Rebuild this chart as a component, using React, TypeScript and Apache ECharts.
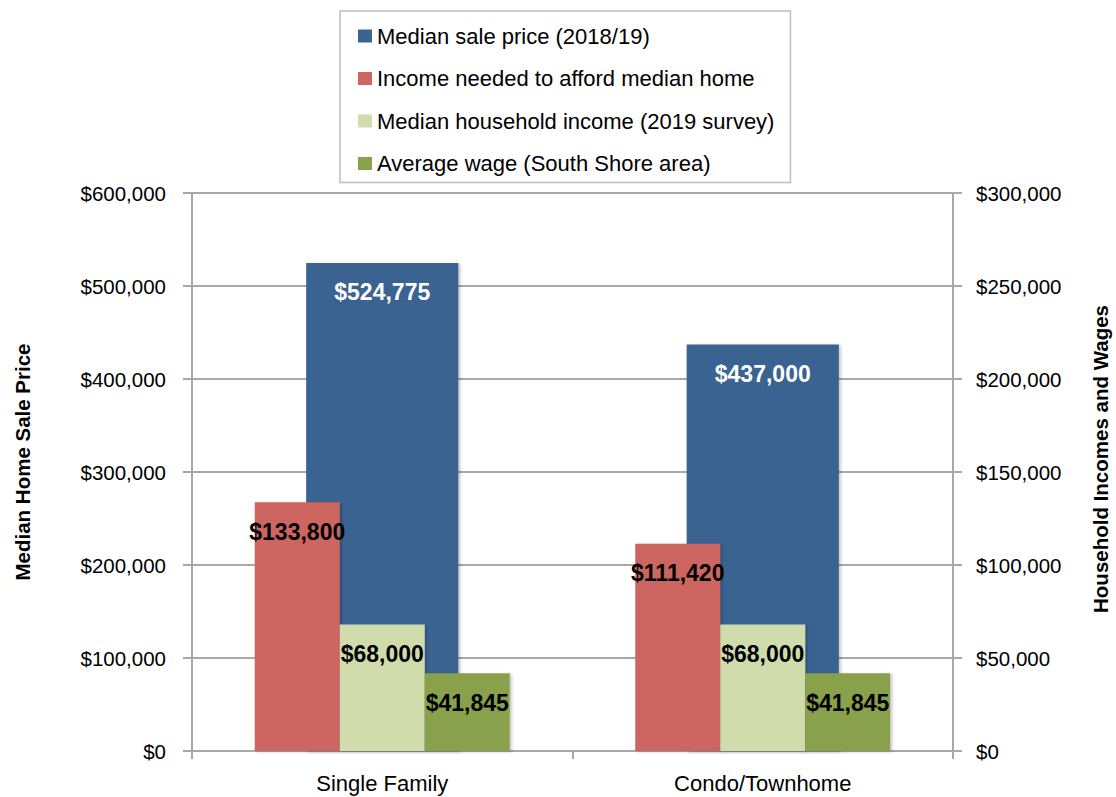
import React, { useEffect, useRef } from 'react';
import * as echarts from 'echarts';

const categories = ['Single Family', 'Condo/Townhome'];
const seriesNames = [
  'Median sale price (2018/19)',
  'Income needed to afford median home',
  'Median household income (2019 survey)',
  'Average wage (South Shore area)',
];
const medianSalePrice = [524775, 437000];
const incomeNeeded = [133800, 111420];
const medianHouseholdIncome = [68000, 68000];
const averageWage = [41845, 41845];
const leftAxisTitle = 'Median Home Sale Price';
const rightAxisTitle = 'Household Incomes and Wages';
const leftAxisMax = 600000;
const leftAxisInterval = 100000;
const rightAxisMax = 300000;
const rightAxisInterval = 50000;

const colors = ['#3B6491', '#CD6660', '#D0DCAB', '#8AA14B'];
const FONT = "'Liberation Sans Narrow', 'Arial Narrow', 'Liberation Sans', Arial, sans-serif";
const GRAY = '#a8a8a8';

const money = (v: number) => '$' + Math.round(v).toLocaleString('en-US');

export default function App() {
  const ref = useRef<HTMLDivElement>(null);
  useEffect(() => {
    document.body.style.margin = '0';
    if (!ref.current) return;
    const chart = echarts.init(ref.current, null, { renderer: 'svg' });
    const barLabel = (color: string) => ({
      show: true,
      position: 'insideTop',
      distance: 18,
      color,
      fontFamily: FONT,
      fontWeight: 'bold',
      fontSize: 23,
      formatter: (p: any) => money(p.value),
    });
    const shadow = {
      shadowColor: 'rgba(0,0,0,0.22)',
      shadowBlur: 3,
      shadowOffsetX: 2,
      shadowOffsetY: 1,
    };
    chart.setOption({
      animation: false,
      textStyle: { fontFamily: FONT },
      grid: { left: 192, right: 163, top: 193, bottom: 46, containLabel: false },
      legend: {
        orient: 'vertical',
        left: 340,
        top: 11,
        padding: [14, 16, 8, 18],
        itemGap: 20.5,
        itemWidth: 14,
        itemHeight: 13,
        icon: 'rect',
        borderColor: '#bdbdbd',
        borderWidth: 1.5,
        textStyle: { fontFamily: FONT, fontSize: 22, color: '#000' },
        data: seriesNames,
      },
      xAxis: [
        {
          type: 'category',
          data: categories,
          axisLine: { show: true, lineStyle: { color: GRAY, width: 2 } },
          axisTick: { show: true, length: 8, interval: 0, lineStyle: { color: GRAY, width: 2 } },
          axisLabel: { color: '#000', fontFamily: FONT, fontSize: 22, margin: 21 },
        },
        {
          type: 'category',
          data: categories,
          show: false,
        },
      ],
      yAxis: [
        {
          type: 'value',
          position: 'left',
          min: 0,
          max: leftAxisMax,
          interval: leftAxisInterval,
          axisLine: { show: true, lineStyle: { color: GRAY, width: 2 } },
          axisTick: { show: true, length: 9, lineStyle: { color: GRAY, width: 2 } },
          splitLine: { show: true, lineStyle: { color: GRAY, width: 2 } },
          axisLabel: { color: '#000', fontFamily: FONT, fontSize: 20.5, margin: 26, formatter: money },
        },
        {
          type: 'value',
          position: 'right',
          min: 0,
          max: rightAxisMax,
          interval: rightAxisInterval,
          axisLine: { show: true, lineStyle: { color: GRAY, width: 2 } },
          axisTick: { show: true, length: 9, lineStyle: { color: GRAY, width: 2 } },
          splitLine: { show: false },
          axisLabel: { color: '#000', fontFamily: FONT, fontSize: 20.5, margin: 23, formatter: money },
        },
      ],
      series: [
        {
          name: seriesNames[0],
          type: 'bar',
          xAxisIndex: 0,
          yAxisIndex: 0,
          barWidth: '40%',
          z: 2,
          data: medianSalePrice,
          itemStyle: { color: colors[0], ...shadow },
          label: barLabel('#ffffff'),
        },
        {
          name: seriesNames[1],
          type: 'bar',
          xAxisIndex: 1,
          yAxisIndex: 1,
          barWidth: 85,
          barGap: '0%',
          z: 3,
          data: incomeNeeded,
          itemStyle: { color: colors[1], ...shadow },
          label: barLabel('#000000'),
        },
        {
          name: seriesNames[2],
          type: 'bar',
          xAxisIndex: 1,
          yAxisIndex: 1,
          barWidth: 85,
          barGap: '0%',
          z: 3,
          data: medianHouseholdIncome,
          itemStyle: { color: colors[2], ...shadow },
          label: barLabel('#000000'),
        },
        {
          name: seriesNames[3],
          type: 'bar',
          xAxisIndex: 1,
          yAxisIndex: 1,
          barWidth: 85,
          barGap: '0%',
          z: 3,
          data: averageWage,
          itemStyle: { color: colors[3], ...shadow },
          label: barLabel('#000000'),
        },
      ],
      graphic: [
        {
          type: 'text',
          x: 22,
          y: 462,
          rotation: Math.PI / 2,
          style: {
            text: leftAxisTitle,
            fontFamily: FONT,
            fontWeight: 'bold',
            fontSize: 20.5,
            fill: '#000',
            align: 'center',
            verticalAlign: 'middle',
            textAlign: 'center',
            textVerticalAlign: 'middle',
          },
        },
        {
          type: 'text',
          x: 1100,
          y: 459,
          rotation: Math.PI / 2,
          style: {
            text: rightAxisTitle,
            fontFamily: FONT,
            fontWeight: 'bold',
            fontSize: 20.5,
            fill: '#000',
            align: 'center',
            verticalAlign: 'middle',
            textAlign: 'center',
            textVerticalAlign: 'middle',
          },
        },
      ],
    });
    return () => chart.dispose();
  }, []);
  return <div ref={ref} style={{ width: 1116, height: 797 }} />;
}
